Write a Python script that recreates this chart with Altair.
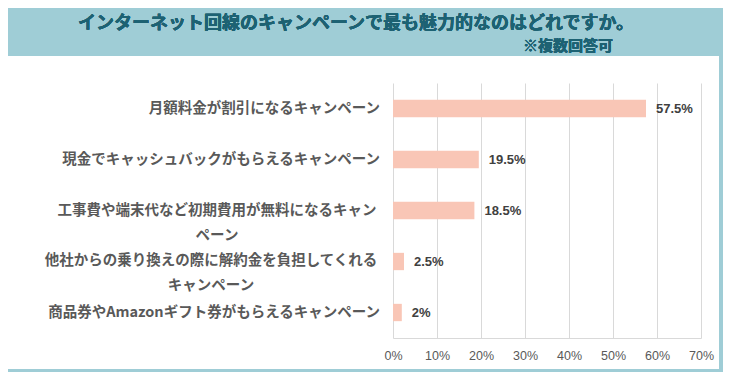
import altair as alt
import pandas as pd

categories = [
    "月額料金が割引になるキャンペーン",
    "現金でキャッシュバックがもらえるキャンペーン",
    "工事費や端末代など初期費用が無料になるキャンペーン",
    "他社からの乗り換えの際に解約金を負担してくれるキャンペーン",
    "商品券やAmazonギフト券がもらえるキャンペーン",
]
label_lines = [
    ["月額料金が割引になるキャンペーン"],
    ["現金でキャッシュバックがもらえるキャンペーン"],
    ["工事費や端末代など初期費用が無料になるキャン", "ペーン"],
    ["他社からの乗り換えの際に解約金を負担してくれる", "キャンペーン"],
    ["商品券やAmazonギフト券がもらえるキャンペーン"],
]
values = [57.5, 19.5, 18.5, 2.5, 2]
value_labels = ["57.5%", "19.5%", "18.5%", "2.5%", "2%"]
x_ticks = [0, 10, 20, 30, 40, 50, 60, 70]
title_text = "インターネット回線のキャンペーンで最も魅力的なのはどれですか。"
subtitle_text = "※複数回答可"

df = pd.DataFrame({
    "cat": categories,
    "lines": label_lines,
    "nlines": [len(l) for l in label_lines],
    "val": values,
    "lbl": value_labels,
})

TEAL = "#9fcdd6"
DARK_TEAL = "#1d6273"
JP = "Noto Sans CJK JP"
LABEL_COLOR = "#595959"
CAT_SIZE = 14.5

y_enc = alt.Y("cat:N", sort=categories, title=None,
              scale=alt.Scale(paddingInner=0.66, paddingOuter=0.33),
              axis=None)
x_scale = alt.Scale(domain=[0, 70], nice=False)

base = alt.Chart(df)

header = base.mark_rect(color=TEAL).encode(
    x=alt.value(-390), x2=alt.value(335), y=alt.value(-80), y2=alt.value(-27)
)
right_strip = base.mark_rect(color=TEAL).encode(
    x=alt.value(326), x2=alt.value(335), y=alt.value(-80), y2=alt.value(295)
)
bottom_strip = base.mark_rect(color=TEAL).encode(
    x=alt.value(-390), x2=alt.value(335), y=alt.value(286), y2=alt.value(295)
)

title = base.mark_text(
    text=title_text, font=JP, fontSize=18, fontWeight="bold",
    color=DARK_TEAL, align="center", baseline="middle"
).encode(x=alt.value(-37), y=alt.value(-59))

subtitle = base.mark_text(
    text=subtitle_text, font=JP, fontSize=15, fontWeight="bold",
    color=DARK_TEAL, align="left", baseline="middle"
).encode(x=alt.value(130), y=alt.value(-37))

grid = base.mark_bar(opacity=0).encode(
    x=alt.X("val:Q", scale=x_scale, title=None,
            axis=alt.Axis(values=x_ticks, labelExpr="datum.value + '%'",
                          grid=True, gridColor="#d9d9d9", gridWidth=1,
                          domain=True, domainColor="#d9d9d9", ticks=False,
                          labelFlush=False, labelFont="Liberation Sans",
                          labelFontSize=12.5, labelColor=LABEL_COLOR,
                          labelPadding=11)),
    y=y_enc,
)

bars = base.mark_bar(color="#f9c6b6").encode(
    x=alt.X("val:Q", scale=x_scale),
    y=y_enc,
)

vlabels = base.mark_text(
    align="left", baseline="middle", dx=10, font="Liberation Sans",
    fontSize=13, fontWeight="bold", color="#404040"
).encode(x=alt.X("val:Q", scale=x_scale), y=y_enc, text="lbl:N")

cat_single = base.transform_filter("datum.nlines == 1").mark_text(
    align="right", baseline="middle", font=JP, fontSize=CAT_SIZE,
    fontWeight="bold", color=LABEL_COLOR
).encode(x=alt.value(-13), y=y_enc, text="cat:N")

cat_multi3 = base.transform_filter(f"datum.cat == '{categories[2]}'").mark_text(
    align="center", baseline="middle", font=JP, fontSize=CAT_SIZE,
    fontWeight="bold", color=LABEL_COLOR, lineHeight=25, dy=0
).encode(x=alt.value(-176), y=y_enc, text="lines")

cat_multi4 = base.transform_filter(f"datum.cat == '{categories[3]}'").mark_text(
    align="center", baseline="middle", font=JP, fontSize=CAT_SIZE,
    fontWeight="bold", color=LABEL_COLOR, lineHeight=25, dy=-1
).encode(x=alt.value(-182), y=y_enc, text="lines")

chart = alt.layer(
    header, right_strip, bottom_strip, title, subtitle, grid, bars, vlabels,
    cat_single, cat_multi3, cat_multi4
).properties(
    width=308, height=255,
    padding={"left": 385, "top": 75, "right": 22, "bottom": 34},
    autosize=alt.AutoSizeParams(type="none"),
    background="white",
).configure_view(stroke=None)

chart.save("out.html", embed_options={"renderer": "svg", "actions": False})
